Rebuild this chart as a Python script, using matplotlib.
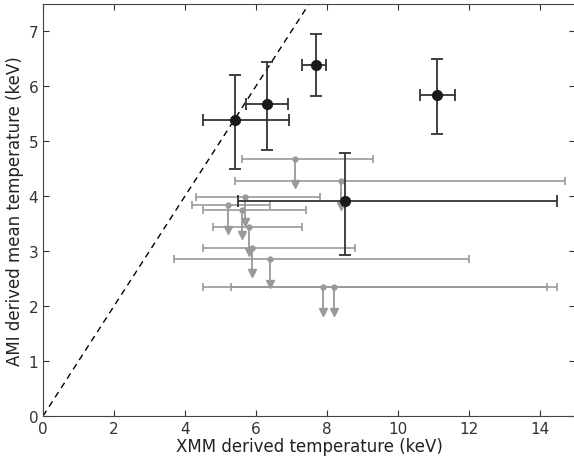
import matplotlib
matplotlib.use('Agg')
import matplotlib.pyplot as plt
import numpy as np

# detections (black)
det_x = [5.4, 6.3, 7.7, 11.1, 8.5]
det_y = [5.38, 5.68, 6.38, 5.85, 3.92]
det_xlo = [4.5, 5.72, 7.3, 10.62, 5.5]
det_xhi = [6.93, 6.9, 7.97, 11.6, 14.5]
det_ylo = [4.49, 4.84, 5.82, 5.13, 2.93]
det_yhi = [6.2, 6.45, 6.96, 6.49, 4.78]

# upper limits (gray)
lim_x = [7.1, 8.4, 5.7, 5.2, 5.6, 5.8, 5.9, 6.4, 7.9, 8.2]
lim_y = [4.67, 4.28, 3.98, 3.84, 3.74, 3.43, 3.05, 2.85, 2.35, 2.35]
lim_xlo = [5.6, 5.4, 4.3, 4.2, 4.5, 4.8, 4.5, 3.7, 4.5, 5.3]
lim_xhi = [9.3, 14.7, 7.8, 6.4, 7.4, 7.3, 8.8, 12.0, 14.2, 14.5]
arrow_len = 0.45

fig = plt.figure(figsize=(5.74, 4.6), dpi=100)
ax = fig.add_axes([0.075, 0.0935, 0.927, 0.896])

grey = '#999999'
lx = np.array(lim_x)
ly = np.array(lim_y)
ax.errorbar(lx, ly, xerr=[lx - np.array(lim_xlo), np.array(lim_xhi) - lx],
            fmt='o', color=grey, ms=3.5, elinewidth=1.2, capsize=3, capthick=1.2, zorder=2)
ax.vlines(lx, ly - arrow_len, ly, color=grey, lw=1.3, zorder=2)
ax.plot(lx, ly - arrow_len, 'v', color=grey, ms=6, zorder=2)

dx = np.array(det_x)
dy = np.array(det_y)
ax.errorbar(dx, dy,
            xerr=[dx - np.array(det_xlo), np.array(det_xhi) - dx],
            yerr=[dy - np.array(det_ylo), np.array(det_yhi) - dy],
            fmt='o', color='#1a1a1a', ecolor='#333333', ms=7, elinewidth=1.3,
            capsize=4, capthick=1.3, zorder=3)

ax.plot([0, 8], [0, 8], color='black', lw=1, dashes=(4.5, 3.5), zorder=1)

ax.set_xlim(0, 15)
ax.set_ylim(0, 7.5)
ax.set_xticks(range(0, 15, 2))
ax.set_yticks(range(0, 8))
for s in ax.spines.values():
    s.set_color('#444444')
ax.spines['right'].set_visible(False)
ax.tick_params(direction='in', top=True, right=True, labelsize=11, length=4,
               colors='#333333')
ax.set_xlabel('XMM derived temperature (keV)', fontsize=12, labelpad=1, color='#222222')
ax.set_ylabel('AMI derived mean temperature (keV)', fontsize=12, labelpad=3, color='#222222')

plt.savefig('out.png', dpi=100)
